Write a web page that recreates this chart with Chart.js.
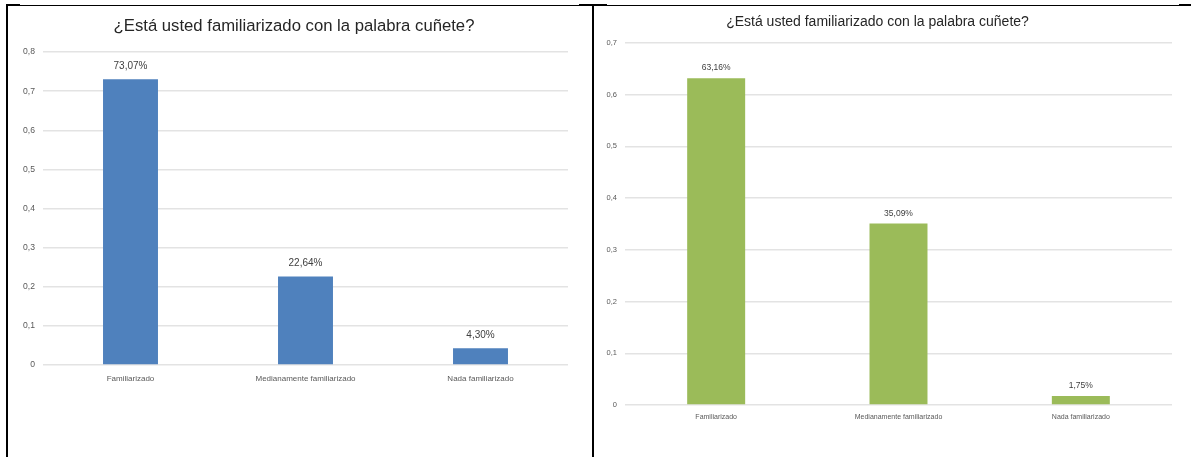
<!DOCTYPE html>
<html>
<head>
<meta charset="utf-8">
<script src="https://cdn.jsdelivr.net/npm/chart.js@4.4.1/dist/chart.umd.min.js"></script>
<style>
  html, body { margin: 0; padding: 0; background: #fff; }
  body { width: 1191px; height: 457px; position: relative; overflow: hidden; }
  canvas { position: absolute; top: 6px; }
  #chartLeft { left: 20px; }
  #chartRight { left: 583px; }
  .rule { position: absolute; background: #000; z-index: 2; }
</style>
</head>
<body>
<!-- table cell borders -->
<div class="rule" style="left:6px; top:5px; width:1185px; height:1px;"></div>
<div class="rule" style="left:6px; top:4px; width:14px; height:2px;"></div>
<div class="rule" style="left:579px; top:4px; width:28px; height:2px;"></div>
<div class="rule" style="left:1179px; top:4px; width:12px; height:2px;"></div>
<div class="rule" style="left:6px; top:5px; width:2px; height:452px;"></div>
<div class="rule" style="left:592px; top:5px; width:2px; height:452px;"></div>

<canvas id="chartLeft" width="572" height="451"></canvas>
<canvas id="chartRight" width="608" height="451"></canvas>

<script>
var titleText = '¿Está usted familiarizado con la palabra cuñete?';
var categories = ['Familiarizado', 'Medianamente familiarizado', 'Nada familiarizado'];

// share of answers, first survey and second survey
var leftValues = [0.7307, 0.2264, 0.0430];
var rightValues = [0.6316, 0.3509, 0.0175];

var leftTicksMax = 0.8;
var rightTicksMax = 0.7;

function pctLabel(v) {
    return (v * 100).toFixed(2).replace('.', ',') + '%';
}

function tickLabel(v) {
    if (v === 0) return '0';
    return v.toFixed(1).replace('.', ',');
}

// writes the percentage above every bar
var valueLabels = {
    id: 'valueLabels',
    afterDatasetsDraw: function(chart, args, opts) {
        var ctx = chart.ctx;
        var meta = chart.getDatasetMeta(0);
        var data = chart.data.datasets[0].data;
        ctx.save();
        ctx.font = opts.size + 'px "Liberation Sans", Arial, sans-serif';
        ctx.fillStyle = '#404040';
        ctx.textAlign = 'center';
        ctx.textBaseline = 'bottom';
        meta.data.forEach(function(bar, i) {
            ctx.fillText(pctLabel(data[i]), bar.x, bar.y - opts.offset);
        });
        ctx.restore();
    }
};

function makeChart(id, values, color, cfg) {
    var ctx = document.getElementById(id).getContext('2d');
    return new Chart(ctx, {
        type: 'bar',
        data: {
            labels: categories,
            datasets: [{
                data: values,
                backgroundColor: color,
                borderWidth: 0,
                categoryPercentage: 1,
                barPercentage: cfg.barPct
            }]
        },
        options: {
            responsive: false,
            animation: false,
            devicePixelRatio: 1,
            layout: { padding: { left: 0, right: cfg.padRight, top: 0, bottom: 0 } },
            plugins: {
                legend: { display: false },
                tooltip: { enabled: false },
                title: {
                    display: true,
                    text: titleText,
                    color: '#262626',
                    font: { family: '"Liberation Sans", Arial, sans-serif', size: cfg.titleSize, weight: 'normal' },
                    padding: { top: cfg.titleTop, bottom: cfg.titleBottom }
                },
                valueLabels: { size: cfg.valueSize, offset: cfg.valueOffset }
            },
            scales: {
                x: {
                    grid: { display: false, drawTicks: false },
                    border: { display: false },
                    ticks: {
                        color: '#595959',
                        padding: cfg.xPad,
                        maxRotation: 0,
                        font: { family: '"Liberation Sans", Arial, sans-serif', size: cfg.xSize }
                    },
                    afterFit: function(scale) { scale.height = cfg.xHeight; }
                },
                y: {
                    min: 0,
                    max: cfg.max,
                    grid: { color: '#e3e3e3', lineWidth: 1.5, drawTicks: false },
                    border: { display: false },
                    ticks: {
                        stepSize: 0.1,
                        padding: 8,
                        color: '#595959',
                        font: { family: '"Liberation Sans", Arial, sans-serif', size: cfg.ySize },
                        callback: function(v) { return tickLabel(v); }
                    },
                    afterFit: function(scale) { scale.width = cfg.yWidth; }
                }
            }
        },
        plugins: [valueLabels]
    });
}

makeChart('chartLeft', leftValues, '#4f81bd', {
    max: leftTicksMax, barPct: 0.314, padRight: 24,
    titleSize: 16.7, titleTop: 10, titleBottom: 16,
    valueSize: 10, valueOffset: 8,
    xSize: 8, xPad: 9, xHeight: 92,
    ySize: 8.6, yWidth: 23
});

makeChart('chartRight', rightValues, '#9bbb59', {
    max: rightTicksMax, barPct: 0.318, padRight: 19,
    titleSize: 14, titleTop: 7.6, titleBottom: 12.6,
    valueSize: 8.5, valueOffset: 6,
    xSize: 7, xPad: 8, xHeight: 52,
    ySize: 7.5, yWidth: 42
});
</script>
</body>
</html>
